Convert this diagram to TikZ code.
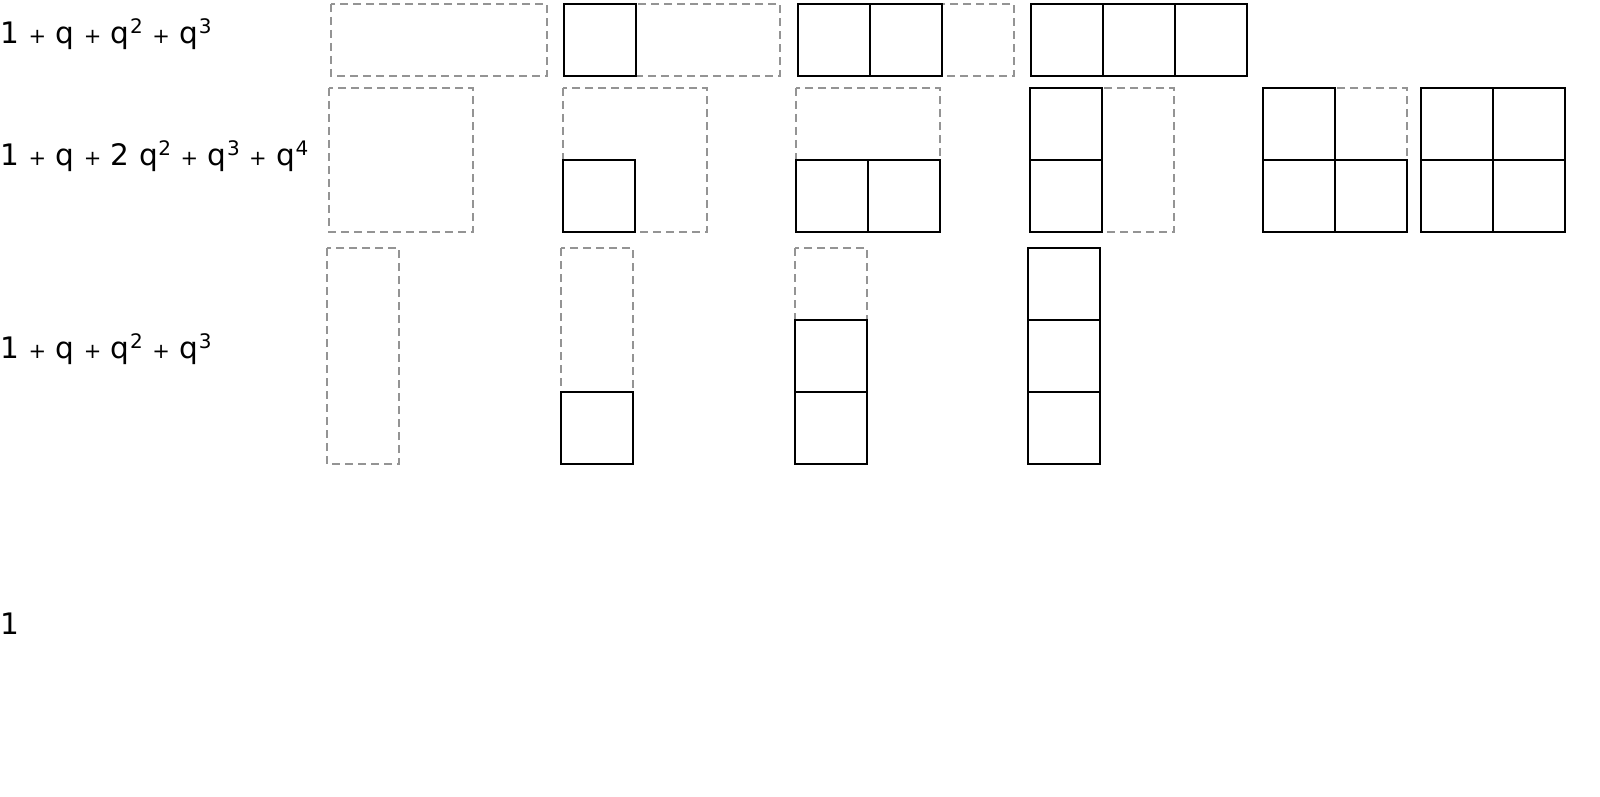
\documentclass[tikz,border=0pt]{standalone}
\usepackage{fontspec}
\setmainfont{DejaVu Sans}

% small plus sign, powers of q and one box of a diagram
\newcommand{\pl}{{\fontsize{10.5pt}{10.5pt}\selectfont +}}
\newcommand{\qq}[1]{q\hspace{0.3pt}\raisebox{5pt}{\fontsize{10pt}{10pt}\selectfont #1}}
\newcommand{\cellat}[2]{\draw[cell] (#1,#2) rectangle ++(72,72);}

\tikzset{
  frame/.style={draw=black!42, line width=0.6pt, dash pattern=on 4pt off 2.5pt},
  cell/.style={draw=black, line width=0.75pt},
  lab/.style={anchor=base west, inner sep=0pt, font=\fontsize{14.8pt}{17pt}\selectfont}
}

\begin{document}
\begin{tikzpicture}[x=0.5pt, y=-0.5pt]
  \useasboundingbox (0,0) rectangle (1600,797);

  % Define the labels of the rows
  \node[lab] (row1) at (0,44) {1 \pl{} q \pl{} \qq{2} \pl{} \qq{3}};
  \node[lab] (row2) at (0,165) {1 \pl{} q \pl{} 2 \qq{2} \pl{} \qq{3} \pl{} \qq{4}};
  \node[lab] (row3) at (0,358) {1 \pl{} q \pl{} \qq{2} \pl{} \qq{3}};
  \node[lab] (row4) at (0,634) {1};

  % First row: one row of three boxes
  \foreach \x in {331,564,798,1031}
    \draw[frame] (\x,4) rectangle ++(216,72);
  \cellat{564}{4}
  \foreach \x in {798,870} {\cellat{\x}{4}}
  \foreach \x in {1031,1103,1175} {\cellat{\x}{4}}

  % Second row: two by two
  \foreach \x in {329,563,796,1030,1263,1421}
    \draw[frame] (\x,88) rectangle ++(144,144);
  \cellat{563}{160}
  \foreach \x in {796,868} {\cellat{\x}{160}}
  \foreach \y in {88,160} {\cellat{1030}{\y}}
  \cellat{1263}{160} \cellat{1335}{160} \cellat{1263}{88}
  \foreach \x in {1421,1493}
    \foreach \y in {88,160} {\cellat{\x}{\y}}

  % Third row: one column of three boxes
  \foreach \x in {327,561,795,1028}
    \draw[frame] (\x,248) rectangle ++(72,216);
  \cellat{561}{392}
  \foreach \y in {320,392} {\cellat{795}{\y}}
  \foreach \y in {248,320,392} {\cellat{1028}{\y}}
\end{tikzpicture}
\end{document}
